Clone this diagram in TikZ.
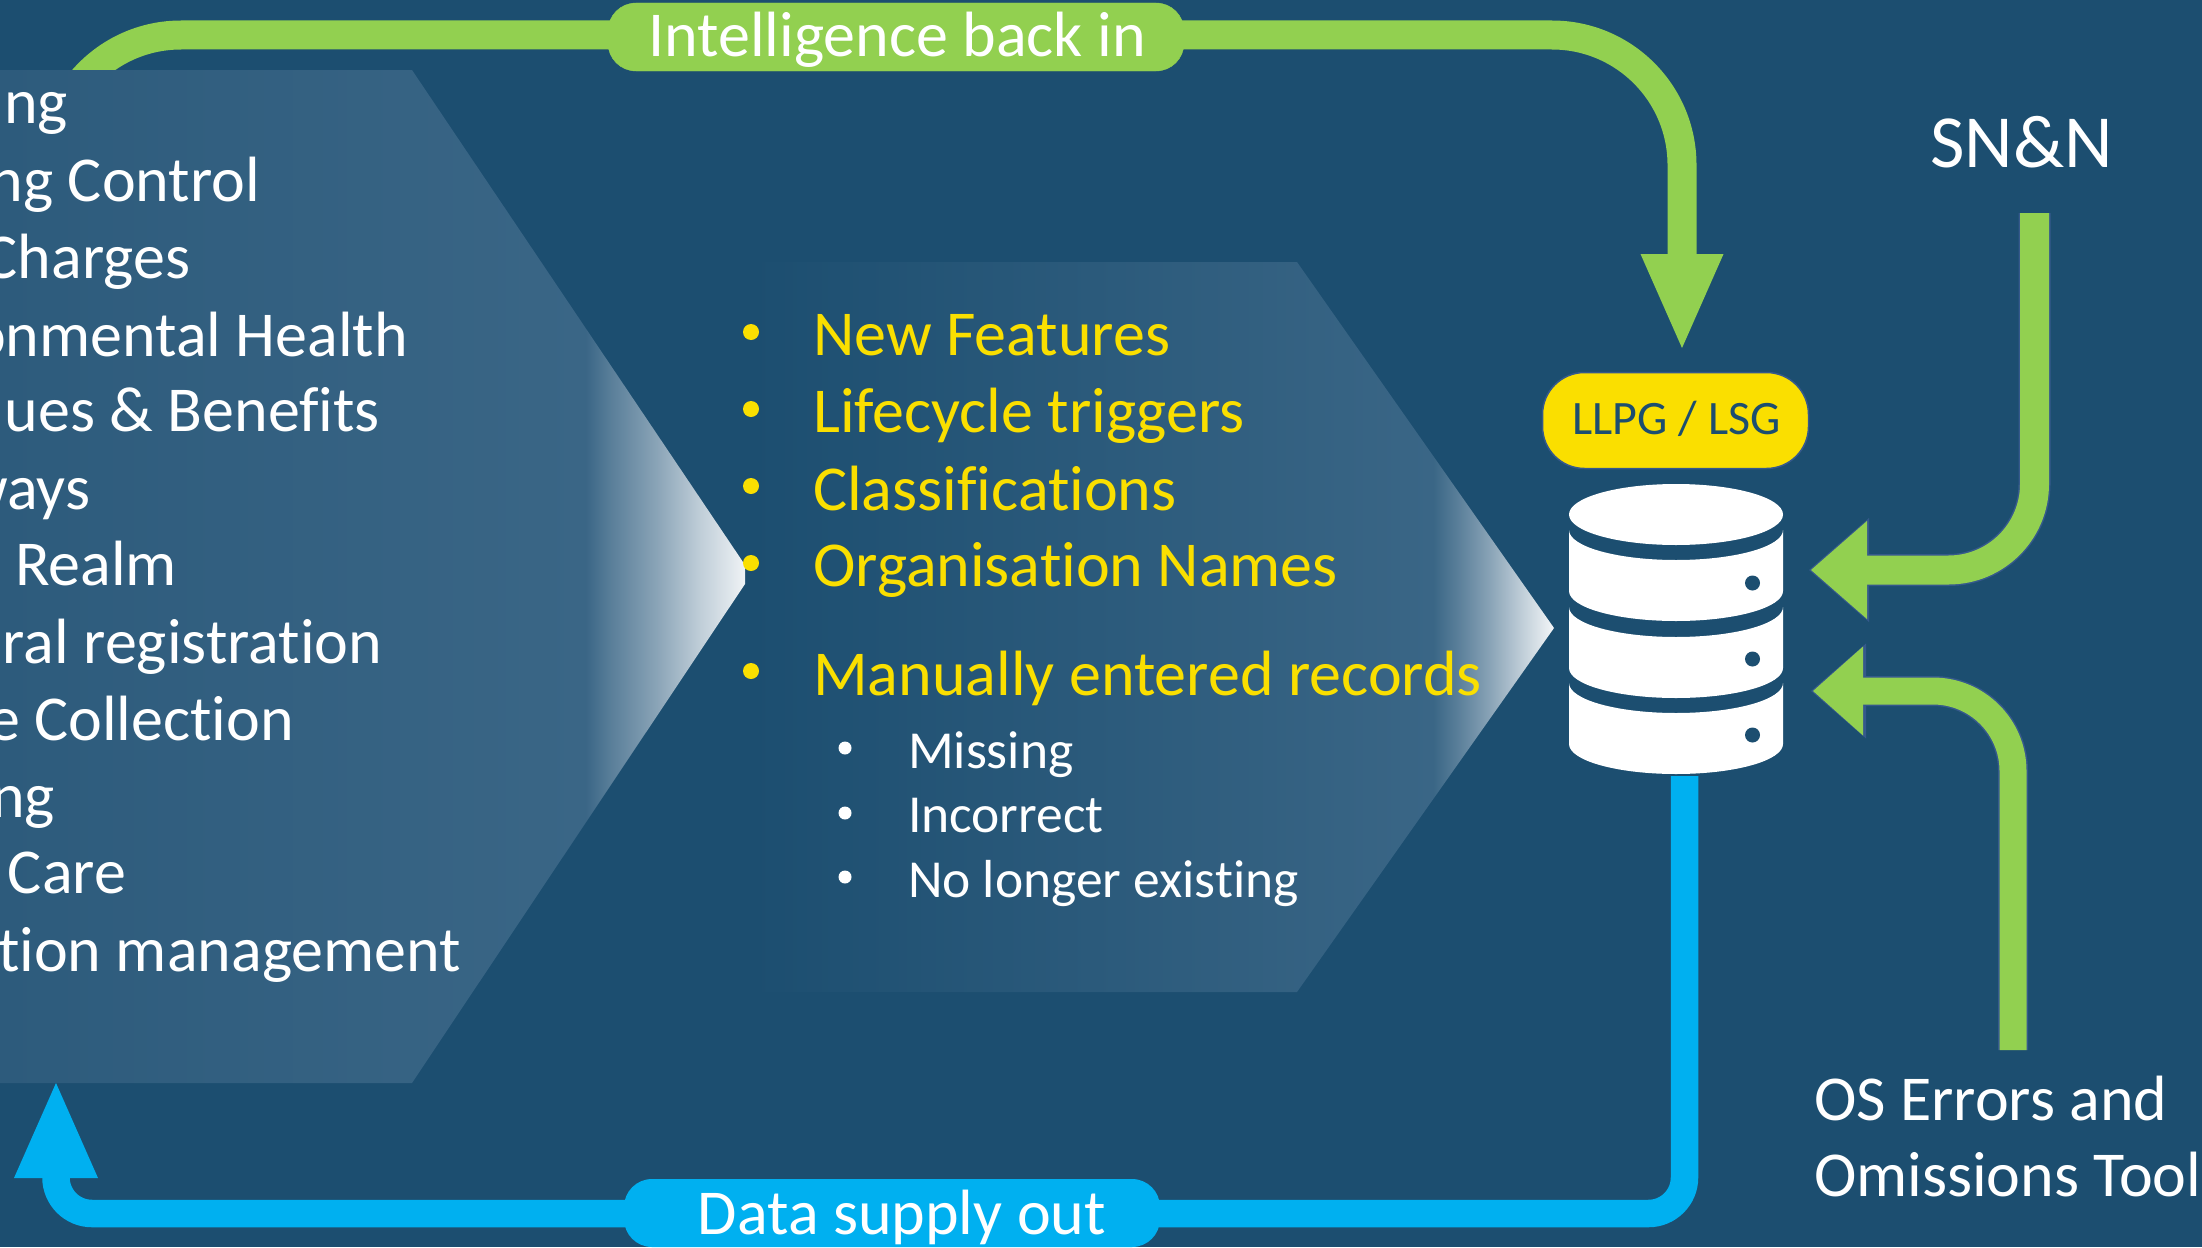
\documentclass[tikz,border=0pt]{standalone}
\usepackage{fontspec}
\setmainfont[Ligatures=NoCommon]{Carlito}
\usetikzlibrary{arrows.meta}
\definecolor{bg}{HTML}{1C4E70}
\definecolor{hexa}{HTML}{2D5B7C}
\definecolor{hexb}{HTML}{3A6686}
\definecolor{grn}{HTML}{92D050}
\definecolor{blu}{HTML}{00B0F0}
\definecolor{yel}{HTML}{FADF00}
\definecolor{edge}{HTML}{35598C}
\pgfdeclarehorizontalshading{hexL}{100bp}{color(0bp)=(hexa); color(25bp)=(hexa); color(64.3bp)=(hexb); color(66bp)=(hexb!84!white); color(69bp)=(hexb!60!white); color(72bp)=(hexb!32!white); color(75bp)=(hexb!8!white); color(100bp)=(hexb!8!white)}
\pgfdeclarehorizontalshading{hexM}{100bp}{color(0bp)=(bg); color(25bp)=(bg); color(67.5bp)=(hexb); color(69bp)=(hexb!84!white); color(71bp)=(hexb!60!white); color(73bp)=(hexb!32!white); color(75bp)=(hexb!6!white); color(100bp)=(hexb!6!white)}
\newcommand{\dbseg}[2]{\fill[white] (1569,#1) .. controls (1569,#1+16.6) and (1617,#1+30) .. (1676,#1+30) .. controls (1735,#1+30) and (1783,#1+16.6) .. (1783,#1) -- (1783,#2) .. controls (1783,#2+16.6) and (1735,#2+30) .. (1676,#2+30) .. controls (1617,#2+30) and (1569,#2+16.6) .. (1569,#2) -- cycle;}
\tikzset{
  lbl/.style={inner sep=0pt,outer sep=0pt,yshift=-1.5pt,text=white,font=\fontsize{#1}{#1}\selectfont},
  leftitem/.style={lbl=64,anchor=base east,xshift=2pt},
  yitem/.style={inner sep=0pt,yshift=-1.5pt,anchor=base west,text=yel,font=\fontsize{64}{64}\selectfont},
  witem/.style={lbl=53.5,anchor=base west},
  ybul/.style={circle,fill=yel,inner sep=0pt,minimum size=16pt},
  wbul/.style={circle,fill=white,inner sep=0pt,minimum size=13pt},
  pill/.style={rounded corners=28pt,inner sep=0pt,align=center,text=white,font=\fontsize{64}{64}\selectfont},
}
\begin{document}
\begin{tikzpicture}[x=1pt,y=-1pt]
\useasboundingbox[fill=bg] (0,0) rectangle (2202,1247);
% coordinates of connectors
\coordinate (gs) at (51,300); \coordinate (g1) at (51,35); \coordinate (g2) at (1682,35); \coordinate (gt) at (1682,348);
\coordinate (sns) at (2034.5,213); \coordinate (sn1) at (2034.5,570); \coordinate (snt) at (1809,570);
\coordinate (oss) at (2013,1050); \coordinate (os1) at (2013,691); \coordinate (ost) at (1811,691);
\coordinate (bs) at (1684.5,776); \coordinate (b1) at (1684.5,1213.5); \coordinate (b2) at (56,1213.5); \coordinate (bt) at (56,1083);
% green feedback arrow, under the hexagon
\draw[line width=29pt,rounded corners=130pt,grn,-{Triangle[length=94pt,width=83pt,line width=0pt]}] (gs) -- (g1) -- (g2) -- (gt);
% hexagons
\shade[shading=hexL] (0,70) -- (412,70) -- (745,565) -- (745,584) -- (412,1083) -- (0,1083) -- cycle;
\shade[shading=hexM] (750,262) -- (1297,262) -- (1554,628) -- (1297,992) -- (750,992) -- cycle;
% left list
\node[leftitem] (l1) at (66,122) {ng};
\node[leftitem] (l2) at (258,200) {ng Control};
\node[leftitem] (l3) at (188,277) {Charges};
\node[leftitem] (l4) at (406,355) {onmental Health};
\node[leftitem] (l5) at (378,430) {ues \& Benefits};
\node[leftitem] (l6) at (88,508) {ways};
\node[leftitem] (l7) at (175,584) {Realm};
\node[leftitem] (l8) at (380,662) {oral registration};
\node[leftitem] (l9) at (292,739) {e Collection};
\node[leftitem] (l10) at (53,816) {ng};
\node[leftitem] (l11) at (124,892) {Care};
\node[leftitem] (l12) at (459,970) {tion management};
% middle list
\node[ybul] (by1) at (751,332) {}; \node[yitem] (y1) at (813,354) {New Features};
\node[ybul] (by2) at (751,409) {}; \node[yitem] (y2) at (813,431) {Lifecycle triggers};
\node[ybul] (by3) at (751,486) {}; \node[yitem] (y3) at (813,509) {Classifications};
\node[ybul] (by4) at (751,563) {}; \node[yitem] (y4) at (813,585) {Organisation Names};
\node[ybul] (by5) at (751,671) {}; \node[yitem] (y5) at (813,694) {Manually entered records};
\node[wbul] (bw1) at (845,748) {}; \node[witem] (w1) at (908,767) {Missing};
\node[wbul] (bw2) at (845,813) {}; \node[witem] (w2) at (908,831) {Incorrect};
\node[wbul] (bw3) at (845,877) {}; \node[witem] (w3) at (908,896) {No longer existing};
% pills
\node[pill,fill=grn,draw=grn,minimum width=576pt,minimum height=68pt,text height=53.5pt,text depth=14.5pt] (intel) at (896,37) {\hspace{2pt}Intelligence back in};
% blue arrow
\draw[line width=27.5pt,rounded corners=36pt,blu,-{Triangle[length=95pt,width=84pt,line width=0pt]}] (bs) -- (b1) -- (b2) -- (bt);
\node[pill,fill=blu,minimum width=536pt,minimum height=68pt,text height=55pt,text depth=13pt] (data) at (892,1213) {\hspace{20pt}Data supply out};
% LLPG pill
\node[pill,rounded corners=42pt,fill=yel,draw=edge,line width=1.5pt,text=bg,font=\fontsize{48}{48}\selectfont,minimum width=266pt,minimum height=96pt,text height=61.5pt,text depth=34.5pt] (llpg) at (1675.5,420.5) {\hspace{2pt}LLPG / LSG};
% database
\fill[white] (1676,514.5) ellipse [x radius=107pt,y radius=30.5pt];
\dbseg{530}{591}
\dbseg{607}{668}
\dbseg{683}{744}
\foreach \yy/\nn in {583/h1,659/h2,735/h3} \fill[bg] (1752.5,\yy) circle [radius=7.5pt];
% SN&N arrow
\draw[line width=32pt,rounded corners=86pt,edge,-{Triangle[length=60pt,width=104pt,line width=0pt]}] (sns) -- (sn1) -- (snt);
\draw[line width=29pt,rounded corners=86pt,grn,shorten >=2pt,-{Triangle[length=56pt,width=98pt,line width=0pt]}] (sns) -- (sn1) -- (snt);
% OS arrow
\draw[line width=30pt,rounded corners=80pt,edge,-{Triangle[length=55pt,width=95pt,line width=0pt]}] (oss) -- (os1) -- (ost);
\draw[line width=27pt,rounded corners=80pt,grn,shorten >=2pt,-{Triangle[length=50pt,width=89pt,line width=0pt]}] (oss) -- (os1) -- (ost);
% right labels
\node[lbl=75,anchor=base west] (sn) at (1930.5,166) {SN\&N};
\node[lbl=64,anchor=base west] (os1t) at (1814,1119) {OS Errors and};
\node[lbl=64,anchor=base west] (os2t) at (1814,1195) {Omissions Tool};
\end{tikzpicture}
\end{document}
